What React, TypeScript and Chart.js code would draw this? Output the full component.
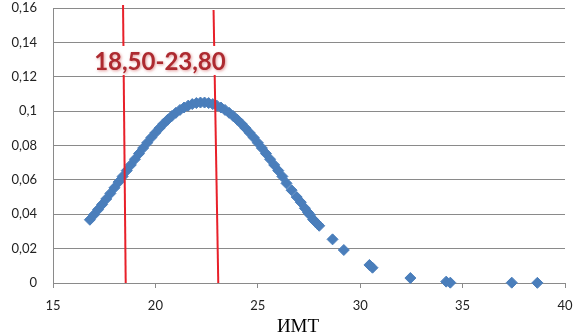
import React, { useEffect, useRef } from 'react';
import { Chart, registerables } from 'chart.js';

Chart.register(...registerables);

// BMI values (x) and estimated density (y)
const bmiValues = [
  16.8, 17.0, 17.2, 17.4, 17.6, 17.8, 18.0, 18.2, 18.4, 18.6, 18.8, 19.0, 19.2, 19.4, 19.6, 19.8,
  20.0, 20.2, 20.4, 20.6, 20.8, 21.0, 21.2, 21.4, 21.6, 21.8, 22.0, 22.2, 22.4, 22.6, 22.8, 23.0,
  23.2, 23.4, 23.6, 23.8, 24.0, 24.2, 24.4, 24.6, 24.8, 25.0, 25.2, 25.4, 25.6, 25.8, 26.0, 26.2,
  26.4, 26.65, 26.9, 27.1, 27.3, 27.45, 27.55, 27.7, 27.8, 27.9, 28.0, 28.65, 29.2, 30.45, 30.6,
  32.45, 34.2, 34.4, 37.4, 38.65,
];
const densityValues = [
  0.0368, 0.0397, 0.0427, 0.0457, 0.0489, 0.0521, 0.0554, 0.0587, 0.062, 0.0654, 0.0687, 0.072, 0.0753, 0.0785, 0.0816, 0.0846,
  0.0874, 0.0901, 0.0927, 0.095, 0.0971, 0.099, 0.1007, 0.1021, 0.1032, 0.1041, 0.1047, 0.105, 0.105, 0.1047, 0.1041, 0.1032,
  0.1021, 0.1007, 0.099, 0.0971, 0.095, 0.0927, 0.0901, 0.0874, 0.0846, 0.0816, 0.0785, 0.0753, 0.072, 0.0687, 0.0654, 0.062,
  0.058, 0.054, 0.05, 0.047, 0.0435, 0.041, 0.0396, 0.037, 0.0357, 0.0345, 0.0333, 0.0254, 0.0192, 0.0105, 0.0089,
  0.0029, 0.0008, 0.0002, 0.0002, 0.0001,
];

// Hand-drawn normal range markers (slightly slanted in the original)
const lowerLineX = [18.42, 18.55];
const lowerLineY = [0.1617, 0];
const upperLineX = [22.84, 23.07];
const upperLineY = [0.1588, 0];

const rangeLabel = '18,50-23,80';
const xAxisTitle = 'ИМТ';
const xTickLabels = ['15', '20', '25', '30', '35', '40'];
const yTickLabels = ['0', '0,02', '0,04', '0,06', '0,08', '0,1', '0,12', '0,14', '0,16'];

const overlayPlugin = {
  id: 'overlay',
  afterDatasetsDraw(chart: any) {
    const { ctx, scales, chartArea } = chart;
    const x = scales.x;
    const y = scales.y;
    const cx = x.getPixelForValue(20.22);
    const cy = y.getPixelForValue(0.1286);
    ctx.save();
    ctx.fillStyle = '#ffffff';
    ctx.fillRect(cx - 72, cy - 16, 144, 29);
    ctx.font = 'bold 24px Lato';
    ctx.textAlign = 'center';
    ctx.textBaseline = 'middle';
    ctx.shadowColor = 'rgba(200,70,70,0.55)';
    ctx.shadowBlur = 3;
    ctx.shadowOffsetX = 1;
    ctx.shadowOffsetY = 1;
    ctx.fillStyle = '#ad2a30';
    ctx.fillText(rangeLabel, cx, cy);
    ctx.restore();

    ctx.save();
    ctx.font = '19px "Liberation Serif"';
    ctx.fillStyle = '#000000';
    ctx.textAlign = 'center';
    ctx.textBaseline = 'alphabetic';
    ctx.fillText(xAxisTitle, (chartArea.left + chartArea.right) / 2 - 11, chart.height - 2);
    ctx.restore();
  },
};

export default function App() {
  const canvasRef = useRef<HTMLCanvasElement | null>(null);

  useEffect(() => {
    document.body.style.margin = '0';
    const canvas = canvasRef.current;
    if (!canvas) return;
    const chart = new Chart(canvas, {
      type: 'scatter',
      data: {
        datasets: [
          {
            type: 'line',
            data: lowerLineX.map((v, i) => ({ x: v, y: lowerLineY[i] })),
            borderColor: '#e8202a',
            borderWidth: 2,
            pointRadius: 0,
            clip: false,
          } as any,
          {
            type: 'line',
            data: upperLineX.map((v, i) => ({ x: v, y: upperLineY[i] })),
            borderColor: '#e8202a',
            borderWidth: 2,
            pointRadius: 0,
            clip: false,
          } as any,
          {
            data: bmiValues.map((v, i) => ({ x: v, y: densityValues[i] })),
            backgroundColor: '#4a7ebb',
            borderColor: '#4a7ebb',
            borderWidth: 1,
            pointStyle: 'rectRot',
            pointRadius: 5.5,
            clip: false,
          } as any,
        ],
      },
      options: {
        animation: false,
        responsive: false,
        maintainAspectRatio: false,
        layout: { padding: { top: 8, right: 9, left: 0, bottom: 0 } },
        plugins: {
          legend: { display: false },
          tooltip: { enabled: false },
        },
        scales: {
          x: {
            type: 'linear',
            min: 15,
            max: 40,
            afterFit: (s: any) => {
              s.height = 51;
              s.paddingLeft = 0;
              s.paddingRight = 0;
            },
            ticks: {
              stepSize: 5,
              padding: 10,
              color: '#222',
              font: { family: 'Lato', size: 13 },
              callback: (v: any) => xTickLabels[Math.round((Number(v) - 15) / 5)] ?? '',
            },
            grid: {
              drawOnChartArea: false,
              drawTicks: true,
              tickLength: 5,
              color: '#8a8a8a',
            },
            border: { color: '#8a8a8a', width: 1 },
          },
          y: {
            type: 'linear',
            min: 0,
            max: 0.16,
            afterFit: (s: any) => {
              s.width = 53;
              s.paddingTop = 0;
              s.paddingBottom = 0;
            },
            ticks: {
              stepSize: 0.02,
              padding: 16,
              color: '#222',
              font: { family: 'Lato', size: 13 },
              callback: (v: any) => yTickLabels[Math.round(Number(v) / 0.02)] ?? '',
            },
            grid: {
              drawTicks: false,
              color: '#8a8a8a',
            },
            border: { color: '#8a8a8a', width: 1 },
          },
        },
      },
      plugins: [overlayPlugin],
    });
    return () => chart.destroy();
  }, []);

  return (
    <div style={{ position: 'fixed', left: 0, top: 0, width: 574, height: 334, background: '#fff' }}>
      <canvas ref={canvasRef} width={574} height={334} style={{ width: 574, height: 334, display: 'block' }} />
    </div>
  );
}
